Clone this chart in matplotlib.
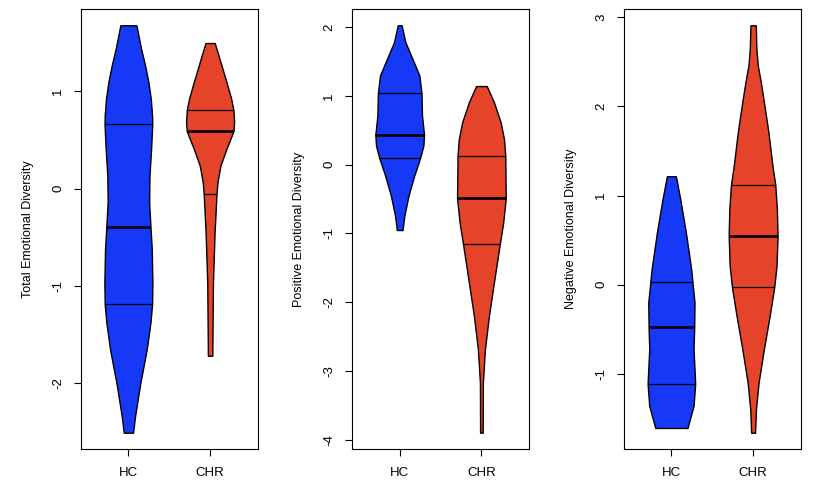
import numpy as np
import matplotlib
matplotlib.use('Agg')
import matplotlib.pyplot as plt
from matplotlib.ticker import MultipleLocator

plt.rcParams['font.family'] = ['Liberation Sans', 'DejaVu Sans']
plt.rcParams['axes.unicode_minus'] = False

groups = ['HC', 'CHR']
colors = ['#1539F7', '#E6442A']
ylabels = ['Total Emotional Diversity', 'Positive Emotional Diversity', 'Negative Emotional Diversity']

# violin outlines: y values and half widths (x units)
total_hc_y = [1.675, 1.436, 1.264, 1.093, 0.922, 0.750, 0.658, 0.408, 0.134, -0.141, -0.391,
              -0.620, -0.963, -1.185, -1.374, -1.648, -1.991, -2.333, -2.505]
total_hc_w = [0.098, 0.155, 0.204, 0.245, 0.274, 0.290, 0.292, 0.278, 0.258, 0.254, 0.270,
              0.286, 0.294, 0.290, 0.270, 0.225, 0.147, 0.082, 0.057]
total_chr_y = [1.493, 1.264, 1.093, 0.922, 0.802, 0.681, 0.589, 0.408, 0.236, 0.065, -0.059,
               -0.449, -0.963, -1.716]
total_chr_w = [0.057, 0.139, 0.200, 0.258, 0.286, 0.294, 0.286, 0.200, 0.127, 0.090, 0.078,
               0.055, 0.035, 0.027]

pos_hc_y = [2.026, 1.783, 1.540, 1.297, 1.035, 0.714, 0.433, 0.277, 0.092, -0.160, -0.452,
            -0.743, -0.952]
pos_hc_w = [0.024, 0.069, 0.155, 0.241, 0.267, 0.273, 0.298, 0.290, 0.249, 0.178, 0.108,
            0.057, 0.035]
pos_chr_y = [1.142, 0.908, 0.617, 0.374, 0.131, -0.491, -0.841, -1.162, -1.716, -2.200,
             -2.687, -3.173, -3.900]
pos_chr_w = [0.065, 0.153, 0.235, 0.276, 0.292, 0.298, 0.267, 0.224, 0.153, 0.092,
             0.043, 0.018, 0.016]

neg_hc_y = [1.217, 0.963, 0.588, 0.176, 0.026, -0.199, -0.479, -0.723, -0.985, -1.116,
            -1.360, -1.607]
neg_hc_w = [0.055, 0.108, 0.177, 0.242, 0.258, 0.283, 0.279, 0.271, 0.285, 0.291,
            0.271, 0.197]
neg_chr_y = [2.910, 2.648, 2.461, 2.273, 2.086, 1.899, 1.712, 1.524, 1.337, 1.124, 0.850,
             0.551, 0.213, -0.030, -0.348, -0.723, -1.097, -1.397, -1.660]
neg_chr_w = [0.033, 0.040, 0.057, 0.094, 0.126, 0.157, 0.187, 0.212, 0.236, 0.271, 0.291,
             0.299, 0.287, 0.258, 0.203, 0.132, 0.067, 0.035, 0.024]

# quartiles (q1, median, q3)
total_hc_q = [-1.185, -0.391, 0.658]
total_chr_q = [-0.059, 0.589, 0.802]
pos_hc_q = [0.092, 0.433, 1.035]
pos_chr_q = [-1.162, -0.491, 0.131]
neg_hc_q = [-1.116, -0.479, 0.026]
neg_chr_q = [-0.030, 0.551, 1.124]

panels = [
    [(total_hc_y, total_hc_w, total_hc_q), (total_chr_y, total_chr_w, total_chr_q)],
    [(pos_hc_y, pos_hc_w, pos_hc_q), (pos_chr_y, pos_chr_w, pos_chr_q)],
    [(neg_hc_y, neg_hc_w, neg_hc_q), (neg_chr_y, neg_chr_w, neg_chr_q)],
]

fig = plt.figure(figsize=(8.22, 4.92), dpi=100)
lefts = [81, 352.3, 624]

for i, violins in enumerate(panels):
    ax = fig.add_axes([lefts[i] / 822, 43 / 492, 176.5 / 822, 440 / 492])
    lo, hi = np.inf, -np.inf
    for k, (yv, wv, q) in enumerate(violins):
        yv = np.array(yv)
        wv = np.array(wv)
        x0 = k + 1
        ax.fill_betweenx(yv, x0 - wv, x0 + wv, facecolor=colors[k], edgecolor='black', linewidth=1.0, zorder=2)
        # quartile lines, median drawn thicker
        for j, qv in enumerate(q):
            hw = np.interp(qv, yv[::-1], wv[::-1])
            ax.plot([x0 - hw, x0 + hw], [qv, qv], color='black',
                    linewidth=1.9 if j == 1 else 0.9, solid_capstyle='butt', zorder=3)
        lo = min(lo, yv.min())
        hi = max(hi, yv.max())
    pad = (hi - lo) * 0.04
    ax.set_ylim(lo - pad, hi + pad)
    ax.set_xlim(0.42, 2.58)
    ax.set_xticks([1, 2])
    ax.set_xticklabels(groups)
    ax.yaxis.set_major_locator(MultipleLocator(1))
    ax.tick_params(axis='both', direction='out', length=5.2, width=0.8, labelsize=9.5, color='black')
    ax.tick_params(axis='x', pad=7.5)
    ax.tick_params(axis='y', pad=7, labelrotation=90)
    for lab in ax.get_yticklabels():
        lab.set_verticalalignment('center')
    for s in ax.spines.values():
        s.set_linewidth(0.8)
    ax.set_ylabel(ylabels[i], fontsize=9)
    ax.yaxis.set_label_coords(-53 / 176.5, 0.5)
    ax.yaxis.label.set_verticalalignment('center')

fig.savefig('out.png', dpi=100)
